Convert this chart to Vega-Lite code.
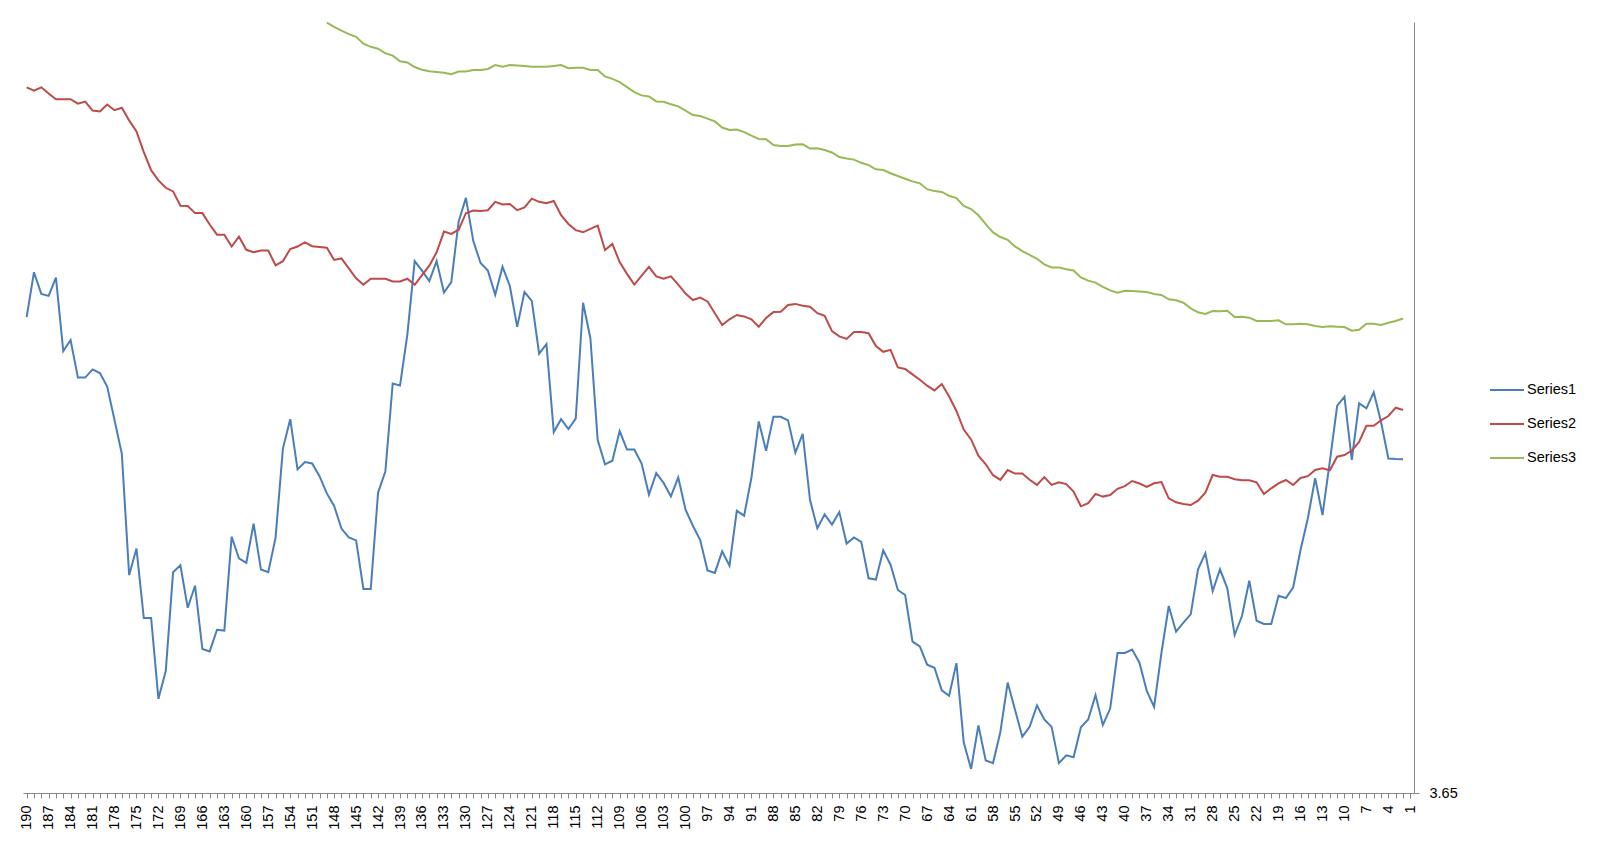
{
  "$schema": "https://vega.github.io/schema/vega-lite/v6.json",
  "width": 1391,
  "height": 771,
  "autosize": {"type": "none"},
  "padding": {"left": 23, "top": 22, "right": 186, "bottom": 50},
  "background": "#ffffff",
  "config": {
    "view": {"stroke": null},
    "font": "Liberation Sans"
  },
  "data": {
    "values": [
      {"i":190,"Series1":4.1259,"Series2":4.3557},
      {"i":189,"Series1":4.1708,"Series2":4.3524},
      {"i":188,"Series1":4.1491,"Series2":4.3557},
      {"i":187,"Series1":4.1471,"Series2":4.3495},
      {"i":186,"Series1":4.1654,"Series2":4.3438},
      {"i":185,"Series1":4.092,"Series2":4.3438},
      {"i":184,"Series1":4.103,"Series2":4.3438},
      {"i":183,"Series1":4.0654,"Series2":4.3393},
      {"i":182,"Series1":4.0654,"Series2":4.3414},
      {"i":181,"Series1":4.0736,"Series2":4.3324},
      {"i":180,"Series1":4.0699,"Series2":4.3316},
      {"i":179,"Series1":4.0565,"Series2":4.3385},
      {"i":178,"Series1":4.023,"Series2":4.3328},
      {"i":177,"Series1":3.9891,"Series2":4.3352},
      {"i":176,"Series1":3.8679,"Series2":4.3226},
      {"i":175,"Series1":3.8944,"Series2":4.3116},
      {"i":174,"Series1":3.825,"Series2":4.2908},
      {"i":173,"Series1":3.825,"Series2":4.2728},
      {"i":172,"Series1":3.7442,"Series2":4.2626},
      {"i":171,"Series1":3.772,"Series2":4.2552},
      {"i":170,"Series1":3.8708,"Series2":4.2516},
      {"i":169,"Series1":3.8777,"Series2":4.2373},
      {"i":168,"Series1":3.8352,"Series2":4.2369},
      {"i":167,"Series1":3.8573,"Series2":4.2299},
      {"i":166,"Series1":3.794,"Series2":4.2299},
      {"i":165,"Series1":3.7916,"Series2":4.2185},
      {"i":164,"Series1":3.8132,"Series2":4.2083},
      {"i":163,"Series1":3.8124,"Series2":4.2083},
      {"i":162,"Series1":3.9063,"Series2":4.1965},
      {"i":161,"Series1":3.8846,"Series2":4.2063},
      {"i":160,"Series1":3.8801,"Series2":4.1932},
      {"i":159,"Series1":3.9193,"Series2":4.1908},
      {"i":158,"Series1":3.8736,"Series2":4.1924},
      {"i":157,"Series1":3.8708,"Series2":4.1924},
      {"i":156,"Series1":3.9054,"Series2":4.1777},
      {"i":155,"Series1":3.9944,"Series2":4.1818},
      {"i":154,"Series1":4.0238,"Series2":4.194},
      {"i":153,"Series1":3.9736,"Series2":4.1965},
      {"i":152,"Series1":3.981,"Series2":4.2007},
      {"i":151,"Series1":3.9795,"Series2":4.1968},
      {"i":150,"Series1":3.9668,"Series2":4.1961},
      {"i":149,"Series1":3.9496,"Series2":4.1953,"Series3":4.4203},
      {"i":148,"Series1":3.937,"Series2":4.1831,"Series3":4.4161},
      {"i":147,"Series1":3.9144,"Series2":4.1846,"Series3":4.4123},
      {"i":146,"Series1":3.9056,"Series2":4.1747,"Series3":4.4089},
      {"i":145,"Series1":3.9026,"Series2":4.1647,"Series3":4.4062},
      {"i":144,"Series1":3.854,"Series2":4.1582,"Series3":4.3993},
      {"i":143,"Series1":3.854,"Series2":4.1643,"Series3":4.3962},
      {"i":142,"Series1":3.9504,"Series2":4.1643,"Series3":4.3943},
      {"i":141,"Series1":3.9718,"Series2":4.1643,"Series3":4.3897},
      {"i":140,"Series1":4.0595,"Series2":4.1616,"Series3":4.3874},
      {"i":139,"Series1":4.0575,"Series2":4.1616,"Series3":4.3817},
      {"i":138,"Series1":4.1084,"Series2":4.1643,"Series3":4.3805},
      {"i":137,"Series1":4.1819,"Series2":4.1582,"Series3":4.376},
      {"i":136,"Series1":4.1724,"Series2":4.1678,"Series3":4.3733},
      {"i":135,"Series1":4.162,"Series2":4.1773,"Series3":4.3717},
      {"i":134,"Series1":4.1819,"Series2":4.1907,"Series3":4.371},
      {"i":133,"Series1":4.1505,"Series2":4.2114,"Series3":4.3702},
      {"i":132,"Series1":4.1609,"Series2":4.2091,"Series3":4.3687},
      {"i":131,"Series1":4.2213,"Series2":4.2133,"Series3":4.3714},
      {"i":130,"Series1":4.2451,"Series2":4.2298,"Series3":4.3714},
      {"i":129,"Series1":4.2022,"Series2":4.2324,"Series3":4.3729},
      {"i":128,"Series1":4.18,"Series2":4.2321,"Series3":4.3729},
      {"i":127,"Series1":4.1724,"Series2":4.2328,"Series3":4.374},
      {"i":126,"Series1":4.1482,"Series2":4.2412,"Series3":4.3779},
      {"i":125,"Series1":4.1762,"Series2":4.2386,"Series3":4.3763},
      {"i":124,"Series1":4.157,"Series2":4.2389,"Series3":4.3779},
      {"i":123,"Series1":4.1161,"Series2":4.2328,"Series3":4.3775},
      {"i":122,"Series1":4.1509,"Series2":4.2355,"Series3":4.3771},
      {"i":121,"Series1":4.1421,"Series2":4.2443,"Series3":4.3763},
      {"i":120,"Series1":4.0893,"Series2":4.2412,"Series3":4.3763},
      {"i":119,"Series1":4.0989,"Series2":4.2397,"Series3":4.3763},
      {"i":118,"Series1":4.0109,"Series2":4.242,"Series3":4.3771},
      {"i":117,"Series1":4.0238,"Series2":4.2278,"Series3":4.3779},
      {"i":116,"Series1":4.0139,"Series2":4.219,"Series3":4.3748},
      {"i":115,"Series1":4.0243,"Series2":4.2129,"Series3":4.3752},
      {"i":114,"Series1":4.1402,"Series2":4.2107,"Series3":4.3752},
      {"i":113,"Series1":4.1048,"Series2":4.2141,"Series3":4.373},
      {"i":112,"Series1":4.003,"Series2":4.2173,"Series3":4.373},
      {"i":111,"Series1":3.9787,"Series2":4.193,"Series3":4.3666},
      {"i":110,"Series1":3.9823,"Series2":4.1991,"Series3":4.3641},
      {"i":109,"Series1":4.0119,"Series2":4.1809,"Series3":4.3609},
      {"i":108,"Series1":3.9934,"Series2":4.1691,"Series3":4.3559},
      {"i":107,"Series1":3.9934,"Series2":4.1584,"Series3":4.3509},
      {"i":106,"Series1":3.9794,"Series2":4.1673,"Series3":4.3476},
      {"i":105,"Series1":3.9484,"Series2":4.1762,"Series3":4.3466},
      {"i":104,"Series1":3.9698,"Series2":4.1666,"Series3":4.3416},
      {"i":103,"Series1":3.9601,"Series2":4.1644,"Series3":4.3412},
      {"i":102,"Series1":3.9466,"Series2":4.1666,"Series3":4.3387},
      {"i":101,"Series1":3.9655,"Series2":4.1584,"Series3":4.3366},
      {"i":100,"Series1":3.9334,"Series2":4.1494,"Series3":4.3323},
      {"i":99,"Series1":3.9173,"Series2":4.143,"Series3":4.328},
      {"i":98,"Series1":3.903,"Series2":4.1455,"Series3":4.3269},
      {"i":97,"Series1":3.8726,"Series2":4.1416,"Series3":4.3244},
      {"i":96,"Series1":3.8701,"Series2":4.1298,"Series3":4.3216},
      {"i":95,"Series1":3.8916,"Series2":4.118,"Series3":4.3155},
      {"i":94,"Series1":3.8773,"Series2":4.1237,"Series3":4.313},
      {"i":93,"Series1":3.9323,"Series2":4.128,"Series3":4.3134},
      {"i":92,"Series1":3.9273,"Series2":4.1266,"Series3":4.3109},
      {"i":91,"Series1":3.9655,"Series2":4.1237,"Series3":4.3073},
      {"i":90,"Series1":4.0216,"Series2":4.1162,"Series3":4.3041},
      {"i":89,"Series1":3.9923,"Series2":4.1251,"Series3":4.3037},
      {"i":88,"Series1":4.0262,"Series2":4.1309,"Series3":4.298},
      {"i":87,"Series1":4.0262,"Series2":4.1312,"Series3":4.2969},
      {"i":86,"Series1":4.0226,"Series2":4.138,"Series3":4.2969},
      {"i":85,"Series1":3.9905,"Series2":4.1391,"Series3":4.2984},
      {"i":84,"Series1":4.0091,"Series2":4.1373,"Series3":4.2987},
      {"i":83,"Series1":3.943,"Series2":4.1362,"Series3":4.2944},
      {"i":82,"Series1":3.9148,"Series2":4.1298,"Series3":4.2948},
      {"i":81,"Series1":3.9287,"Series2":4.1273,"Series3":4.293},
      {"i":80,"Series1":3.9184,"Series2":4.1119,"Series3":4.2905},
      {"i":79,"Series1":3.9309,"Series2":4.1066,"Series3":4.2859},
      {"i":78,"Series1":3.8994,"Series2":4.1041,"Series3":4.2844},
      {"i":77,"Series1":3.9055,"Series2":4.1109,"Series3":4.2834},
      {"i":76,"Series1":3.9012,"Series2":4.1109,"Series3":4.2802},
      {"i":75,"Series1":3.8647,"Series2":4.1098,"Series3":4.2779},
      {"i":74,"Series1":3.8635,"Series2":4.097,"Series3":4.2737},
      {"i":73,"Series1":3.8927,"Series2":4.0912,"Series3":4.2729},
      {"i":72,"Series1":3.8783,"Series2":4.0931,"Series3":4.2698},
      {"i":71,"Series1":3.853,"Series2":4.0756,"Series3":4.267},
      {"i":70,"Series1":3.848,"Series2":4.074,"Series3":4.2643},
      {"i":69,"Series1":3.8013,"Series2":4.0686,"Series3":4.2616},
      {"i":68,"Series1":3.7966,"Series2":4.0632,"Series3":4.2597},
      {"i":67,"Series1":3.7783,"Series2":4.0573,"Series3":4.2538},
      {"i":66,"Series1":3.7752,"Series2":4.0526,"Series3":4.2519},
      {"i":65,"Series1":3.7526,"Series2":4.0589,"Series3":4.2511},
      {"i":64,"Series1":3.7472,"Series2":4.0464,"Series3":4.2472},
      {"i":63,"Series1":3.7799,"Series2":4.032,"Series3":4.2449},
      {"i":62,"Series1":3.7005,"Series2":4.0134,"Series3":4.2371},
      {"i":61,"Series1":3.6741,"Series2":4.0036,"Series3":4.234},
      {"i":60,"Series1":3.7176,"Series2":3.9873,"Series3":4.2277},
      {"i":59,"Series1":3.6826,"Series2":3.9787,"Series3":4.2188},
      {"i":58,"Series1":3.6799,"Series2":3.9678,"Series3":4.2106},
      {"i":57,"Series1":3.711,"Series2":3.9632,"Series3":4.206},
      {"i":56,"Series1":3.7604,"Series2":3.9729,"Series3":4.2032},
      {"i":55,"Series1":3.7332,"Series2":3.9694,"Series3":4.1966},
      {"i":54,"Series1":3.7063,"Series2":3.9694,"Series3":4.1919},
      {"i":53,"Series1":3.7161,"Series2":3.9632,"Series3":4.1881},
      {"i":52,"Series1":3.7375,"Series2":3.9581,"Series3":4.1842},
      {"i":51,"Series1":3.7235,"Series2":3.9659,"Series3":4.1787},
      {"i":50,"Series1":3.7161,"Series2":3.9581,"Series3":4.1756},
      {"i":49,"Series1":3.6799,"Series2":3.9608,"Series3":4.1756},
      {"i":48,"Series1":3.6877,"Series2":3.9589,"Series3":4.1737},
      {"i":47,"Series1":3.6857,"Series2":3.9515,"Series3":4.1725},
      {"i":46,"Series1":3.7157,"Series2":3.9367,"Series3":4.1655},
      {"i":45,"Series1":3.7235,"Series2":3.9398,"Series3":4.1624},
      {"i":44,"Series1":3.748,"Series2":3.9491,"Series3":4.1604},
      {"i":43,"Series1":3.718,"Series2":3.9464,"Series3":4.1562},
      {"i":42,"Series1":3.7344,"Series2":3.948,"Series3":4.1526},
      {"i":41,"Series1":3.79,"Series2":3.9542,"Series3":4.1503},
      {"i":40,"Series1":3.79,"Series2":3.9569,"Series3":4.1523},
      {"i":39,"Series1":3.7935,"Series2":3.962,"Series3":4.1519},
      {"i":38,"Series1":3.7803,"Series2":3.9595,"Series3":4.1516},
      {"i":37,"Series1":3.752,"Series2":3.956,"Series3":4.151},
      {"i":36,"Series1":3.736,"Series2":3.9597,"Series3":4.149},
      {"i":35,"Series1":3.79,"Series2":3.961,"Series3":4.148},
      {"i":34,"Series1":3.837,"Series2":3.9447,"Series3":4.1437},
      {"i":33,"Series1":3.8113,"Series2":3.9407,"Series3":4.1427},
      {"i":32,"Series1":3.8203,"Series2":3.939,"Series3":4.1403},
      {"i":31,"Series1":3.8287,"Series2":3.938,"Series3":4.1347},
      {"i":30,"Series1":3.8737,"Series2":3.9423,"Series3":4.1307},
      {"i":29,"Series1":3.8897,"Series2":3.9503,"Series3":4.129},
      {"i":28,"Series1":3.852,"Series2":3.968,"Series3":4.132},
      {"i":27,"Series1":3.8737,"Series2":3.9663,"Series3":4.1317},
      {"i":26,"Series1":3.8547,"Series2":3.9663,"Series3":4.1323},
      {"i":25,"Series1":3.808,"Series2":3.9637,"Series3":4.126},
      {"i":24,"Series1":3.827,"Series2":3.9627,"Series3":4.1263},
      {"i":23,"Series1":3.8623,"Series2":3.9627,"Series3":4.1253},
      {"i":22,"Series1":3.8223,"Series2":3.9607,"Series3":4.122},
      {"i":21,"Series1":3.819,"Series2":3.949,"Series3":4.122},
      {"i":20,"Series1":3.819,"Series2":3.9547,"Series3":4.122},
      {"i":19,"Series1":3.8473,"Series2":3.9597,"Series3":4.1227},
      {"i":18,"Series1":3.845,"Series2":3.963,"Series3":4.1187},
      {"i":17,"Series1":3.8557,"Series2":3.958,"Series3":4.1187},
      {"i":16,"Series1":3.893,"Series2":3.965,"Series3":4.1193},
      {"i":15,"Series1":3.9247,"Series2":3.9668,"Series3":4.1187},
      {"i":14,"Series1":3.9647,"Series2":3.973,"Series3":4.117},
      {"i":13,"Series1":3.928,"Series2":3.9747,"Series3":4.116},
      {"i":12,"Series1":3.9813,"Series2":3.9727,"Series3":4.1167},
      {"i":11,"Series1":4.037,"Series2":3.9863,"Series3":4.1163},
      {"i":10,"Series1":4.0463,"Series2":3.988,"Series3":4.116},
      {"i":9,"Series1":3.983,"Series2":3.9925,"Series3":4.1123},
      {"i":8,"Series1":4.0397,"Series2":4.001,"Series3":4.1133},
      {"i":7,"Series1":4.0347,"Series2":4.0172,"Series3":4.1193},
      {"i":6,"Series1":4.0507,"Series2":4.0173,"Series3":4.1193},
      {"i":5,"Series1":4.021,"Series2":4.0227,"Series3":4.118},
      {"i":4,"Series1":3.9845,"Series2":4.027,"Series3":4.1203},
      {"i":3,"Series1":3.984,"Series2":4.0353,"Series3":4.122},
      {"i":2,"Series1":3.9837,"Series2":4.033,"Series3":4.1245}
    ]
  },
  "transform": [
    {"fold": ["Series1", "Series2", "Series3"], "as": ["series", "v"]},
    {"filter": "isValid(datum.v)"}
  ],
  "mark": {"type": "line", "strokeWidth": 2},
  "encoding": {
    "x": {
      "field": "i",
      "type": "ordinal",
      "scale": {
        "type": "point",
        "padding": 0.5,
        "domain": [190,189,188,187,186,185,184,183,182,181,180,179,178,177,176,175,174,173,172,171,170,169,168,167,166,165,164,163,162,161,160,159,158,157,156,155,154,153,152,151,150,149,148,147,146,145,144,143,142,141,140,139,138,137,136,135,134,133,132,131,130,129,128,127,126,125,124,123,122,121,120,119,118,117,116,115,114,113,112,111,110,109,108,107,106,105,104,103,102,101,100,99,98,97,96,95,94,93,92,91,90,89,88,87,86,85,84,83,82,81,80,79,78,77,76,75,74,73,72,71,70,69,68,67,66,65,64,63,62,61,60,59,58,57,56,55,54,53,52,51,50,49,48,47,46,45,44,43,42,41,40,39,38,37,36,35,34,33,32,31,30,29,28,27,26,25,24,23,22,21,20,19,18,17,16,15,14,13,12,11,10,9,8,7,6,5,4,3,2,1]
      },
      "axis": {
        "title": null,
        "labelAngle": -90,
        "labelExpr": "(datum.value - 1) % 3 === 0 ? datum.label : ''",
        "labelOverlap": false,
        "labelFontSize": 14.5,
        "labelColor": "#000000",
        "labelPadding": 7,
        "tickSize": 5,
        "tickColor": "#868686",
        "domainColor": "#868686",
        "grid": false
      }
    },
    "y": {
      "field": "v",
      "type": "quantitative",
      "scale": {"domain": [3.65, 4.421], "zero": false, "nice": false},
      "axis": {
        "title": null,
        "orient": "right",
        "values": [3.65],
        "format": ".2f",
        "labelFontSize": 14.5,
        "labelColor": "#000000",
        "labelPadding": 10,
        "tickSize": 5,
        "tickColor": "#868686",
        "domainColor": "#868686",
        "grid": false
      }
    },
    "color": {
      "field": "series",
      "type": "nominal",
      "scale": {
        "domain": ["Series1", "Series2", "Series3"],
        "range": ["#4A7EBB", "#BE4B48", "#98B954"]
      },
      "legend": {
        "title": null,
        "orient": "none",
        "legendX": 1466,
        "legendY": 350,
        "padding": 0,
        "symbolType": "stroke",
        "symbolSize": 1156,
        "symbolStrokeWidth": 2,
        "labelFontSize": 14.5,
        "labelColor": "#000000",
        "labelOffset": 2,
        "rowPadding": 9
      }
    }
  }
}
